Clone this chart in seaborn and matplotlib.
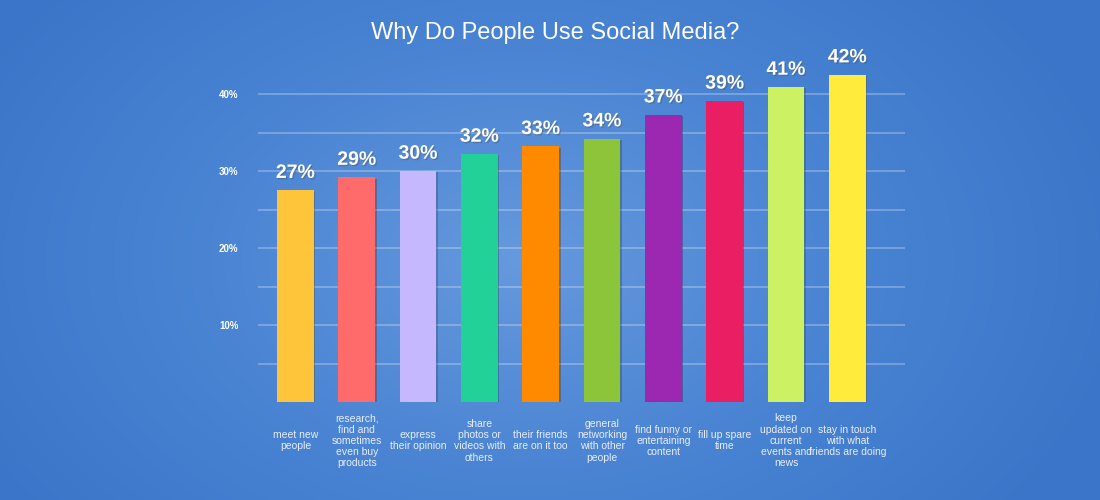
import numpy as np
import pandas as pd
import seaborn as sns
import matplotlib.pyplot as plt
import matplotlib.patheffects as pe
from matplotlib.colors import LinearSegmentedColormap

CATEGORIES = [
    "meet new\npeople",
    "research,\nfind and\nsometimes\neven buy\nproducts",
    "express\ntheir opinion",
    "share\nphotos or\nvideos with\nothers",
    "their friends\nare on it too",
    "general\nnetworking\nwith other\npeople",
    "find funny or\nentertaining\ncontent",
    "fill up spare\ntime",
    "keep\nupdated on\ncurrent\nevents and\nnews",
    "stay in touch\nwith what\nfriends are doing",
]
VALUES = [27.5, 29.2, 30.0, 32.2, 33.2, 34.2, 37.3, 39.1, 40.9, 42.5]
VALUE_LABELS = ["27%", "29%", "30%", "32%", "33%", "34%", "37%", "39%", "41%", "42%"]
COLORS = ["#FFC53A", "#FF6B6B", "#C5B8FF", "#22D197", "#FF8A00",
          "#8CC43A", "#9C27B0", "#E91E63", "#CCF263", "#FFEB3B"]
GRID_TICKS = [5, 10, 15, 20, 25, 30, 35, 40]
GRID_LABELS = ["", "10%", "", "20%", "", "30%", "", "40%"]

sns.set_theme(style="white")
plt.rcParams['font.family'] = ['Liberation Sans', 'DejaVu Sans']

fig = plt.figure(figsize=(11, 5), dpi=100)

# radial blue background
bg = fig.add_axes([0, 0, 1, 1], zorder=0)
yy, xx = np.mgrid[0:500, 0:1100]
r = np.sqrt(((xx - 520) / 620.0) ** 2 + ((yy - 260) / 420.0) ** 2)
cmap = LinearSegmentedColormap.from_list("bg", ["#6699dd", "#4a84d3", "#3a75c9"])
bg.imshow(np.clip(r, 0, 1), cmap=cmap, aspect="auto", vmin=0, vmax=1)
bg.axis("off")

ax = fig.add_axes([258 / 1100, 98 / 500, 647 / 1100, (402 - 55.5) / 500], zorder=1)
ax.patch.set_alpha(0)

df = pd.DataFrame({"reason": CATEGORIES, "share": VALUES})
sns.barplot(data=df, x="reason", y="share", hue="reason", palette=COLORS,
            legend=False, width=0.6, ax=ax, saturation=1, linewidth=0, zorder=3)

for bar in ax.patches:
    bar.set_path_effects([pe.SimplePatchShadow(offset=(1, -1), alpha=0.3), pe.Normal()])

for cont, lab in zip(ax.containers, VALUE_LABELS):
    texts = ax.bar_label(cont, labels=[lab], padding=6, color="white",
                         fontsize=14, fontweight="bold")
    for t in texts:
        t.set_path_effects([pe.withSimplePatchShadow(offset=(1, -1), alpha=0.35)])

ax.set_xlim(-0.61, 9.94)
ax.set_ylim(0, 45)
ax.set_yticks(GRID_TICKS)
ax.set_yticklabels(GRID_LABELS, color="white", fontsize=7, fontweight="bold")
ax.yaxis.grid(True, color="white", alpha=0.3, linewidth=1.2, zorder=0)
ax.set_axisbelow(True)
ax.tick_params(axis="y", length=0, pad=14)
ax.tick_params(axis="x", length=0, pad=28, labelsize=7.5, labelcolor="#e8eefa")
for t in ax.get_xticklabels():
    t.set_verticalalignment("center")
    t.set_linespacing(1.15)
ax.set_xlabel("")
ax.set_ylabel("")
for s in ax.spines.values():
    s.set_visible(False)

fig.text(0.505, 0.935, "Why Do People Use Social Media?", ha="center", va="center",
         color="white", fontsize=17)

fig.savefig("out.png", dpi=100)
